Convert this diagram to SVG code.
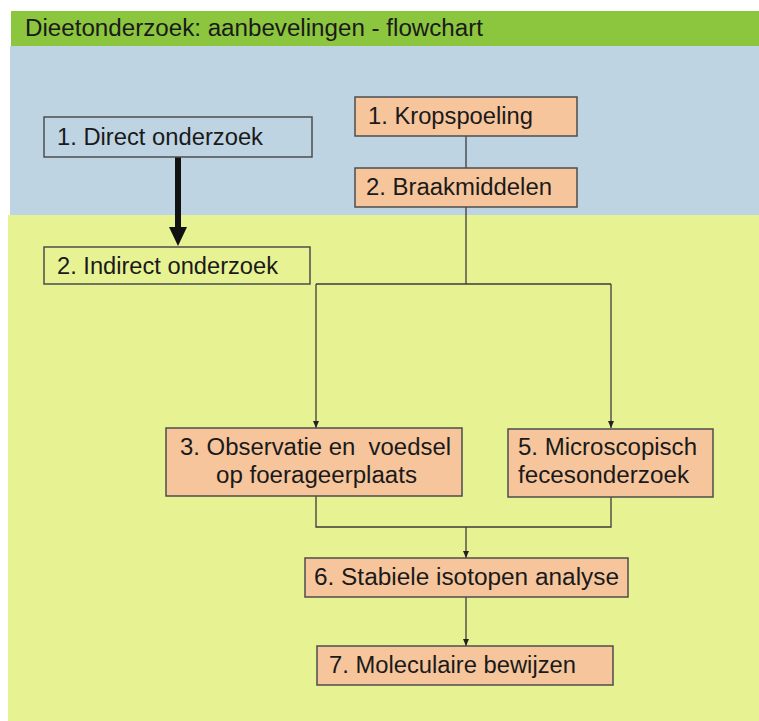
<svg xmlns="http://www.w3.org/2000/svg" width="759" height="721" viewBox="0 0 759 721">
<defs>
<style>
text{font-family:"Liberation Sans",Arial,sans-serif;font-size:23px;fill:#1a1a1a}
.box{stroke:#4d4d4d;stroke-width:1.5}
.o{fill:#f6c59c}
.n{fill:none}
.c{fill:none;stroke:#3c3c3c;stroke-width:1.3}
</style>
<marker id="ah" markerWidth="8" markerHeight="8" refX="7" refY="4" orient="auto" markerUnits="userSpaceOnUse">
<path d="M0,1 L7,4 L0,7 Z" fill="#222"/>
</marker>
</defs>
<rect x="0" y="0" width="759" height="721" fill="#ffffff"/>
<rect x="8" y="215" width="751" height="506" fill="#e7f293"/>
<rect x="10" y="46" width="749" height="169" fill="#bed4e3"/>
<rect x="11" y="11" width="748" height="35" fill="#8cc63e"/>
<text x="25" y="36" textLength="458" lengthAdjust="spacingAndGlyphs">Dieetonderzoek: aanbevelingen - flowchart</text>

<g id="connectors">
<path class="c" d="M466,136 V168"/>
<path class="c" d="M466,207 V284 M316,284 H611"/>
<path class="c" d="M316,284 V428" marker-end="url(#ah)"/>
<path class="c" d="M611,284 V428" marker-end="url(#ah)"/>
<path class="c" d="M316,496 V527 H611 V497"/>
<path class="c" d="M466,527 V558" marker-end="url(#ah)"/>
<path class="c" d="M466,597 V646" marker-end="url(#ah)"/>
<path d="M178,157 V229" stroke="#111" stroke-width="6" fill="none"/>
<path d="M169,227 L187,227 L178,246 Z" fill="#111"/>
</g>

<g id="direct">
<rect class="box n" x="44" y="117" width="268" height="40"/>
<text x="57" y="145" textLength="206" lengthAdjust="spacingAndGlyphs">1. Direct onderzoek</text>
</g>
<g id="indirect">
<rect class="box n" x="44" y="247" width="266" height="37"/>
<text x="57" y="274" textLength="221" lengthAdjust="spacingAndGlyphs">2. Indirect onderzoek</text>
</g>
<g id="kropspoeling">
<rect class="box o" x="355" y="97" width="222" height="39"/>
<text x="368" y="124" textLength="165" lengthAdjust="spacingAndGlyphs">1. Kropspoeling</text>
</g>
<g id="braakmiddelen">
<rect class="box o" x="355" y="168" width="222" height="39"/>
<text x="366" y="195" textLength="186" lengthAdjust="spacingAndGlyphs">2. Braakmiddelen</text>
</g>
<g id="observatie">
<rect class="box o" x="166" y="428" width="296" height="68"/>
<text x="180" y="455" textLength="271" lengthAdjust="spacingAndGlyphs" xml:space="preserve">3. Observatie en  voedsel</text>
<text x="216" y="483" textLength="201" lengthAdjust="spacingAndGlyphs">op foerageerplaats</text>
</g>
<g id="microscopisch">
<rect class="box o" x="508" y="429" width="205" height="68"/>
<text x="518" y="455" textLength="179" lengthAdjust="spacingAndGlyphs">5. Microscopisch</text>
<text x="518" y="483" textLength="171" lengthAdjust="spacingAndGlyphs">fecesonderzoek</text>
</g>
<g id="isotopen">
<rect class="box o" x="305" y="558" width="323" height="39"/>
<text x="314" y="585" textLength="305" lengthAdjust="spacingAndGlyphs">6. Stabiele isotopen analyse</text>
</g>
<g id="moleculair">
<rect class="box o" x="317" y="646" width="296" height="39"/>
<text x="329" y="673" textLength="247" lengthAdjust="spacingAndGlyphs">7. Moleculaire bewijzen</text>
</g>
</svg>
